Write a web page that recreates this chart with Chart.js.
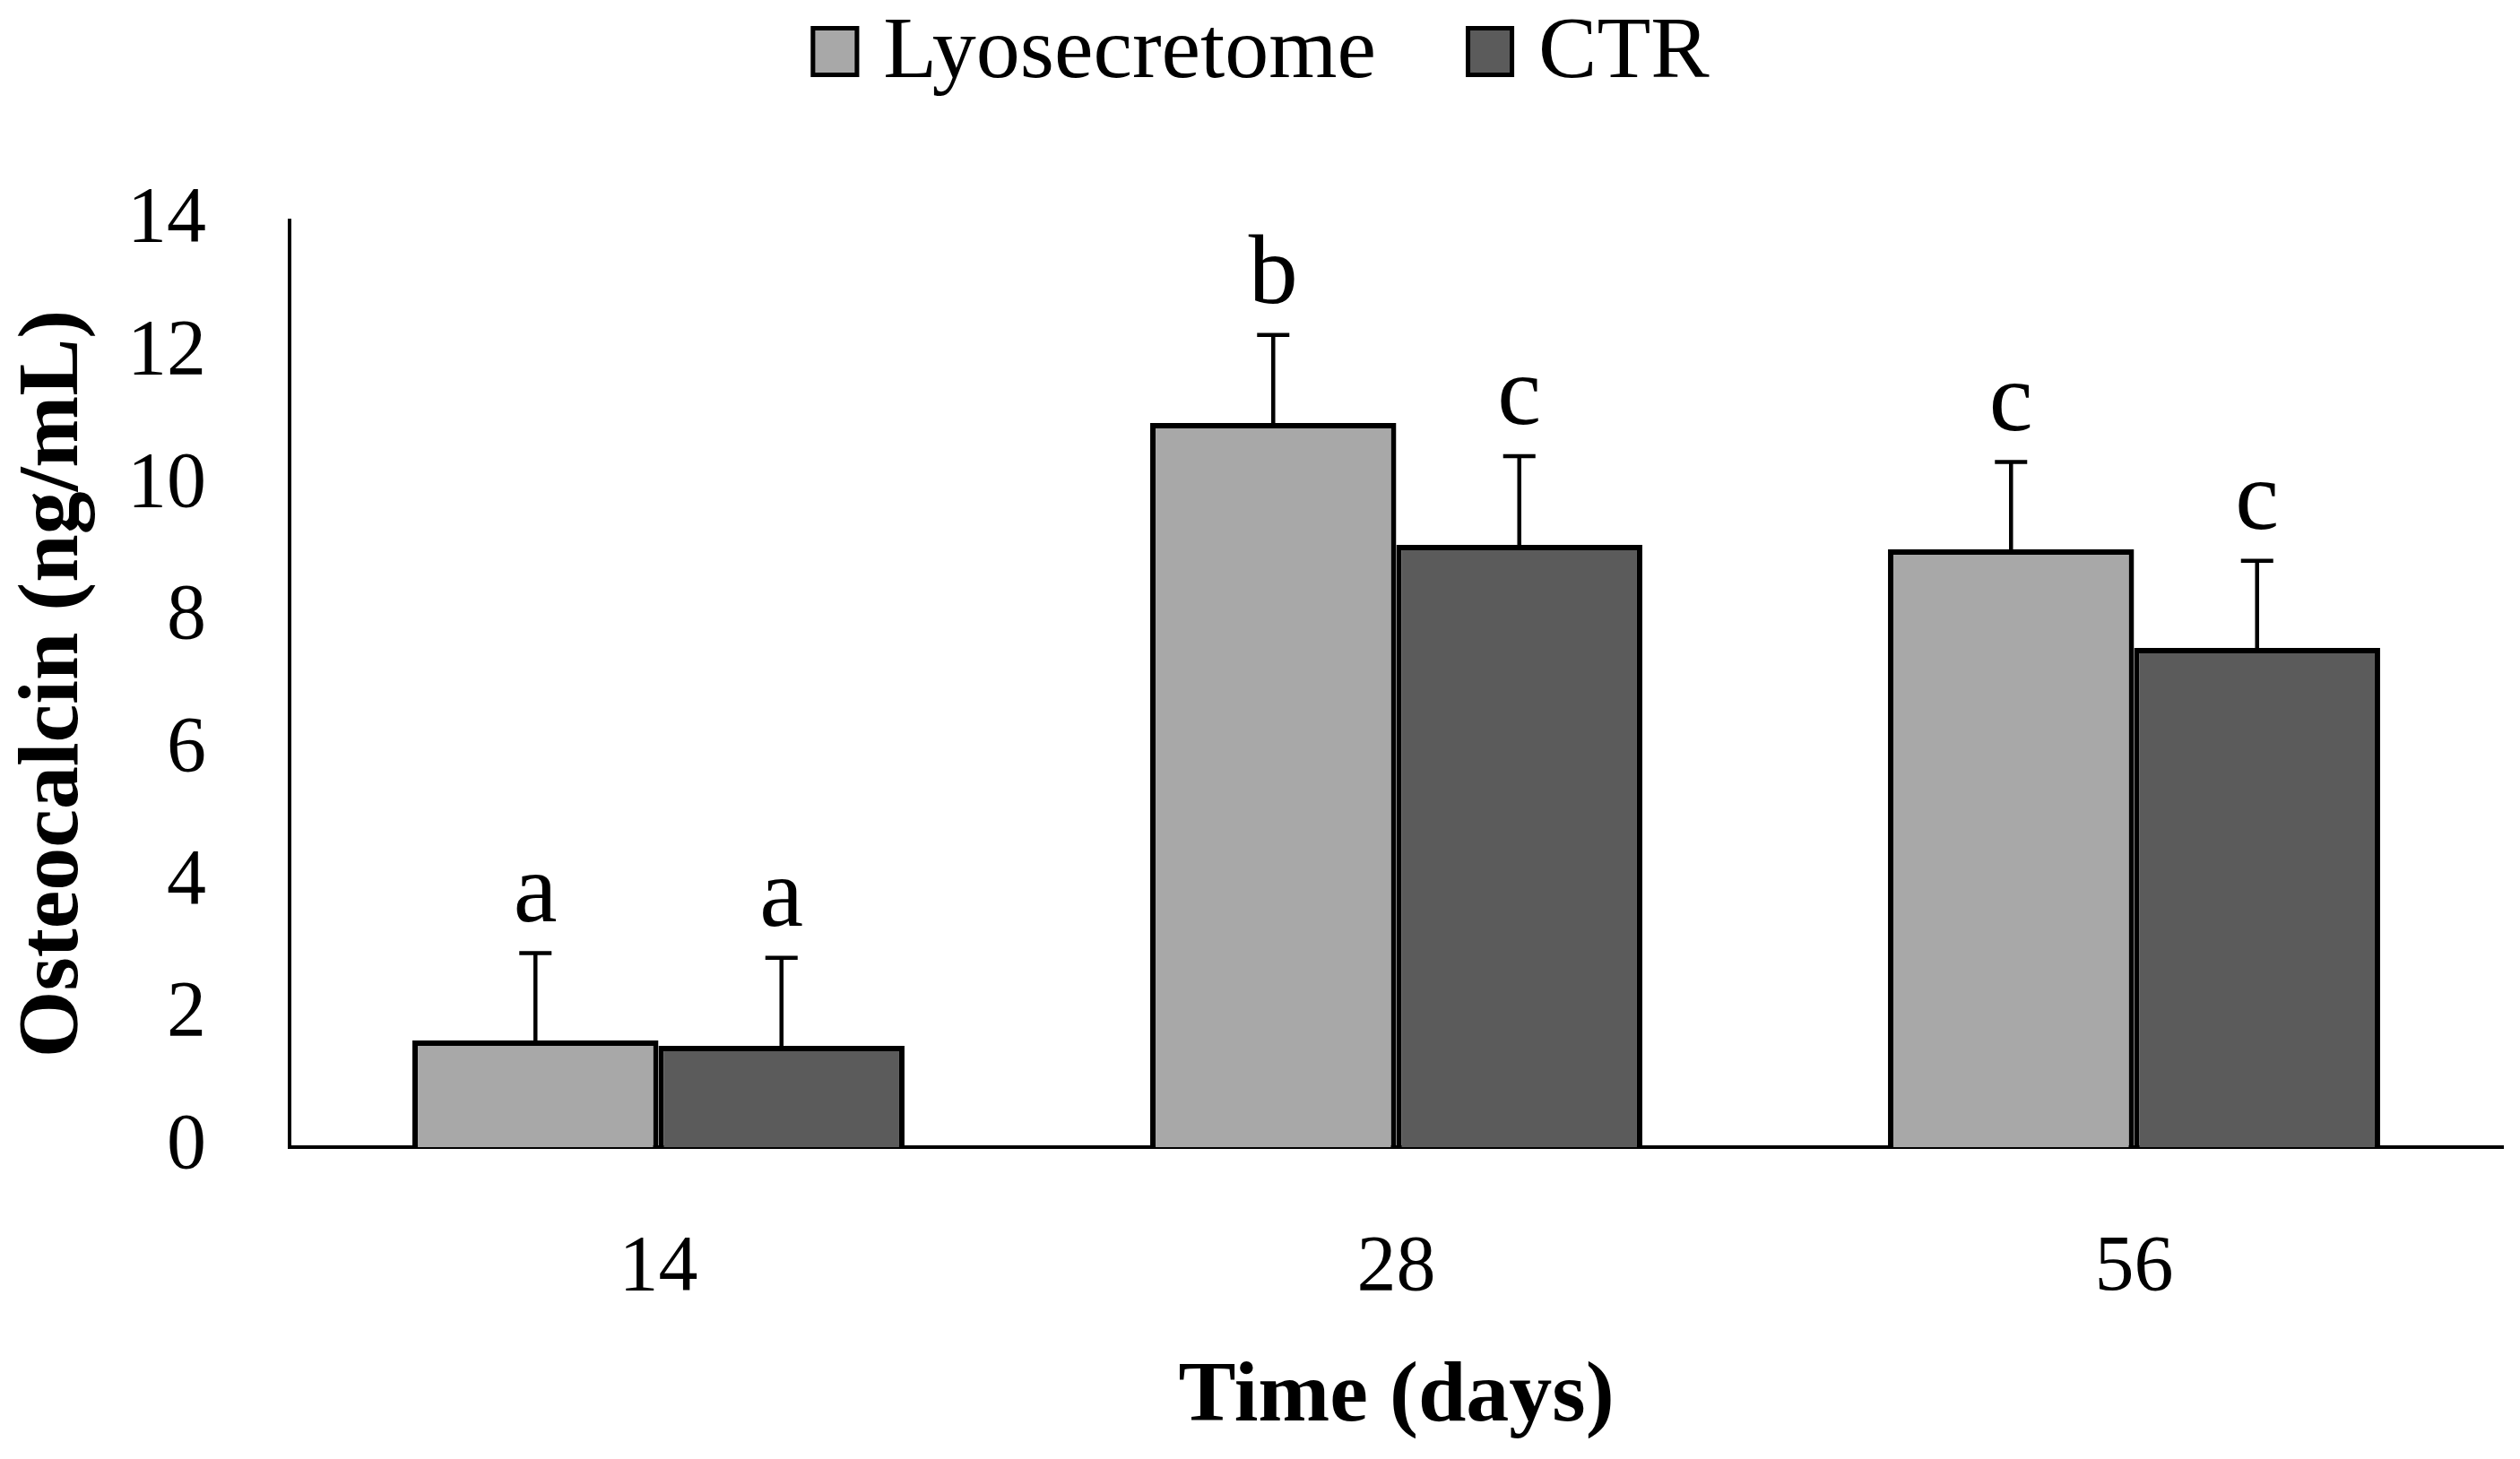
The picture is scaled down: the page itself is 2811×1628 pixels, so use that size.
<!DOCTYPE html>
<html>
<head>
<meta charset="utf-8">
<title>Osteocalcin</title>
<script src="https://cdn.jsdelivr.net/npm/chart.js"></script>
<style>
	html, body { margin: 0; padding: 0; background: #fff; }
	#wrap { width: 2811px; height: 1628px; }
</style>
</head>
<body>
<div id="wrap"><canvas id="mycanvas"></canvas></div>
<script>
var days = ['14', '28', '56'];
var lyo = [1.61, 10.94, 9.03];
var lyoSd = [1.32, 1.33, 1.32];
var lyoLetters = ['a', 'b', 'c'];
var ctr = [1.53, 9.10, 7.54];
var ctrSd = [1.33, 1.34, 1.32];
var ctrLetters = ['a', 'c', 'c'];
var yTicks = [0, 2, 4, 6, 8, 10, 12, 14];

var serif = "'Liberation Serif', 'Times New Roman', serif";

// error bars + letters on top of each bar
var errorBars = {
	id: 'errorBars',
	afterDatasetsDraw: function(chart) {
		var ctx = chart.ctx;
		var y = chart.scales.y;
		var sds = [lyoSd, ctrSd];
		var letters = [lyoLetters, ctrLetters];
		ctx.save();
		chart.data.datasets.forEach(function(ds, d) {
			var meta = chart.getDatasetMeta(d);
			meta.data.forEach(function(bar, i) {
				var top = y.getPixelForValue(ds.data[i] + sds[d][i]);
				ctx.strokeStyle = '#000';
				ctx.lineWidth = 4.5;
				ctx.beginPath();
				ctx.moveTo(bar.x, bar.y);
				ctx.lineTo(bar.x, top);
				ctx.moveTo(bar.x - 18, top);
				ctx.lineTo(bar.x + 18, top);
				ctx.stroke();
				ctx.fillStyle = '#000';
				ctx.font = '110px ' + serif;
				ctx.textAlign = 'center';
				ctx.textBaseline = 'alphabetic';
				ctx.fillText(letters[d][i], bar.x, top - 36);
			});
		});
		ctx.restore();
	}
};

// legend drawn on top, centred
var topLegend = {
	id: 'topLegend',
	afterDraw: function(chart) {
		var ctx = chart.ctx;
		var box = 54, gap = 27, sep = 100, base = 86;
		ctx.save();
		ctx.font = '98px ' + serif;
		var total = 0;
		chart.data.datasets.forEach(function(ds, d) {
			total += box + gap + ctx.measureText(ds.label).width;
			if (d > 0) total += sep;
		});
		var x = (chart.width - total) / 2;
		chart.data.datasets.forEach(function(ds) {
			ctx.fillStyle = ds.backgroundColor;
			ctx.fillRect(x, base - 57, box, 57);
			ctx.strokeStyle = '#000';
			ctx.lineWidth = 5;
			ctx.strokeRect(x + 2.5, base - 57 + 2.5, box - 5, 57 - 5);
			x += box + gap;
			ctx.fillStyle = '#000';
			ctx.textAlign = 'left';
			ctx.textBaseline = 'alphabetic';
			ctx.fillText(ds.label, x, base);
			x += ctx.measureText(ds.label).width + sep;
		});
		ctx.restore();
	}
};

var chartdata = {
	labels: days,
	datasets: [
		{
			label: 'Lyosecretome',
			backgroundColor: '#a8a8a8',
			borderColor: '#000',
			borderWidth: 6,
			data: lyo
		},
		{
			label: 'CTR',
			backgroundColor: '#5b5b5b',
			borderColor: '#000',
			borderWidth: 6,
			data: ctr
		}
	]
};

var ctx = document.getElementById('mycanvas');

var barGraph = new Chart(ctx, {
	type: 'bar',
	data: chartdata,
	plugins: [errorBars, topLegend],
	options: {
		responsive: true,
		maintainAspectRatio: false,
		devicePixelRatio: 1,
		animation: false,
		layout: { padding: { top: 246, right: 19, bottom: 0, left: 0 } },
		datasets: { bar: { categoryPercentage: 0.667, barPercentage: 1.0 } },
		plugins: {
			legend: { display: false },
			tooltip: { enabled: false }
		},
		scales: {
			x: {
				grid: { display: false, drawTicks: false },
				border: { display: true, color: '#000', width: 4 },
				ticks: { color: '#000', padding: 83, font: { family: serif, size: 88 } },
				title: {
					display: true,
					text: 'Time (days)',
					color: '#000',
					padding: { top: 0, bottom: 10 },
					font: { family: serif, size: 96, weight: 'bold' }
				},
				afterFit: function(scale) { scale.height = 348; }
			},
			y: {
				min: 0,
				max: 14,
				grid: { display: false, drawTicks: false },
				border: { display: true, color: '#000', width: 4 },
				afterBuildTicks: function(scale) {
					scale.ticks = yTicks.map(function(v) { return { value: v }; });
				},
				ticks: { color: '#000', padding: 93, font: { family: serif, size: 88 } },
				title: {
					display: true,
					text: 'Osteocalcin (ng/mL)',
					color: '#000',
					padding: { top: 4, bottom: 0 },
					font: { family: serif, size: 96, weight: 'bold' }
				},
				afterFit: function(scale) { scale.width = 323; }
			}
		}
	}
});
</script>
</body>
</html>
